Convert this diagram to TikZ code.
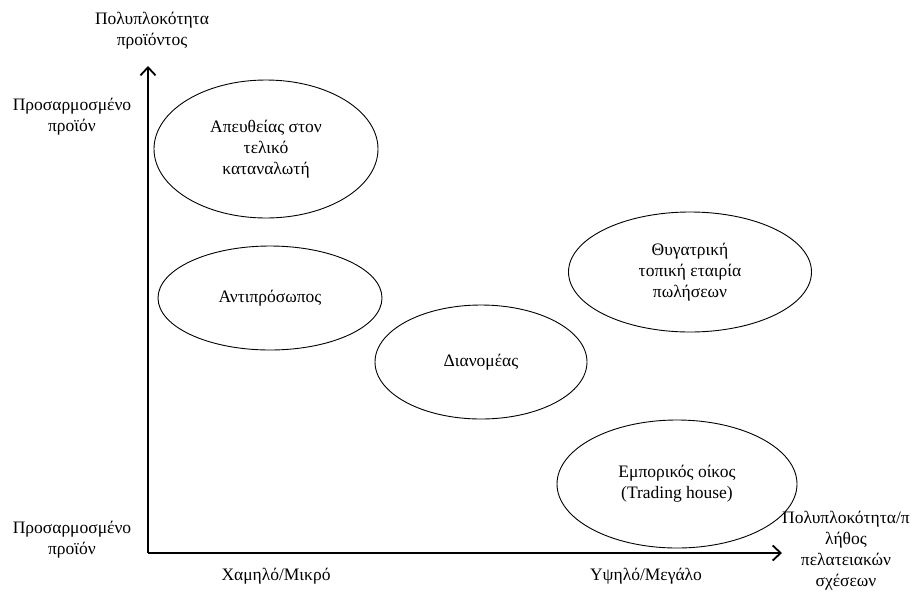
\documentclass[tikz,border=0pt]{standalone}
\usepackage{fontspec}
\setmainfont{Liberation Serif}
\usetikzlibrary{shapes.geometric,arrows.meta}

\tikzset{
  channel/.style={draw,ellipse,line width=0.9pt,align=center,inner sep=0pt},
  axis/.style={line width=2.4pt,-{Straight Barb[length=8pt,width=15pt,line width=1.8pt]}},
  lbl/.style={align=center,inner sep=0pt}
}

\begin{document}
\begin{tikzpicture}[x=1pt,y=-1pt,font=\fontsize{17.5}{21}\selectfont]
      \useasboundingbox (0,0) rectangle (917,592);
      % axes
      \coordinate (origin) at (148,553);
      \coordinate (ytop) at (148,66);
      \coordinate (xend) at (782,553);
      \draw[axis] (origin) -- (ytop);
      \draw[axis] (origin) -- (xend);
      \node[lbl] (ytitle) at (152,31) {Πολυπλοκότητα\\προϊόντος};
      \node[lbl] (yhigh) at (72,117) {Προσαρμοσμένο\\προϊόν};
      \node[lbl] (ylow) at (72,540) {Προσαρμοσμένο\\προϊόν};
      \node[lbl] (xlow) at (276,576) {Χαμηλό/Μικρό};
      \node[lbl] (xhigh) at (646,576) {Υψηλό/Μεγάλο};
      \node[lbl] (xtitle) at (846,551) {Πολυπλοκότητα/π\\λήθος\\πελατειακών\\σχέσεων};
      % channels
      \node[channel,minimum width=224pt,minimum height=138pt] (direct) at (266,149) {Απευθείας στον\\τελικό\\καταναλωτή};
      \node[channel,minimum width=224pt,minimum height=104pt] (agent) at (270,298) {Αντιπρόσωπος};
      \node[channel,minimum width=212pt,minimum height=114pt] (distr) at (481,362) {Διανομέας};
      \node[channel,minimum width=243pt,minimum height=120pt] (subsid) at (690,272) {Θυγατρική\\τοπική εταιρία\\πωλήσεων};
      \node[channel,minimum width=240pt,minimum height=128pt] (trading) at (677,484) {Εμπορικός οίκος\\(Trading house)};
\end{tikzpicture}
\end{document}
